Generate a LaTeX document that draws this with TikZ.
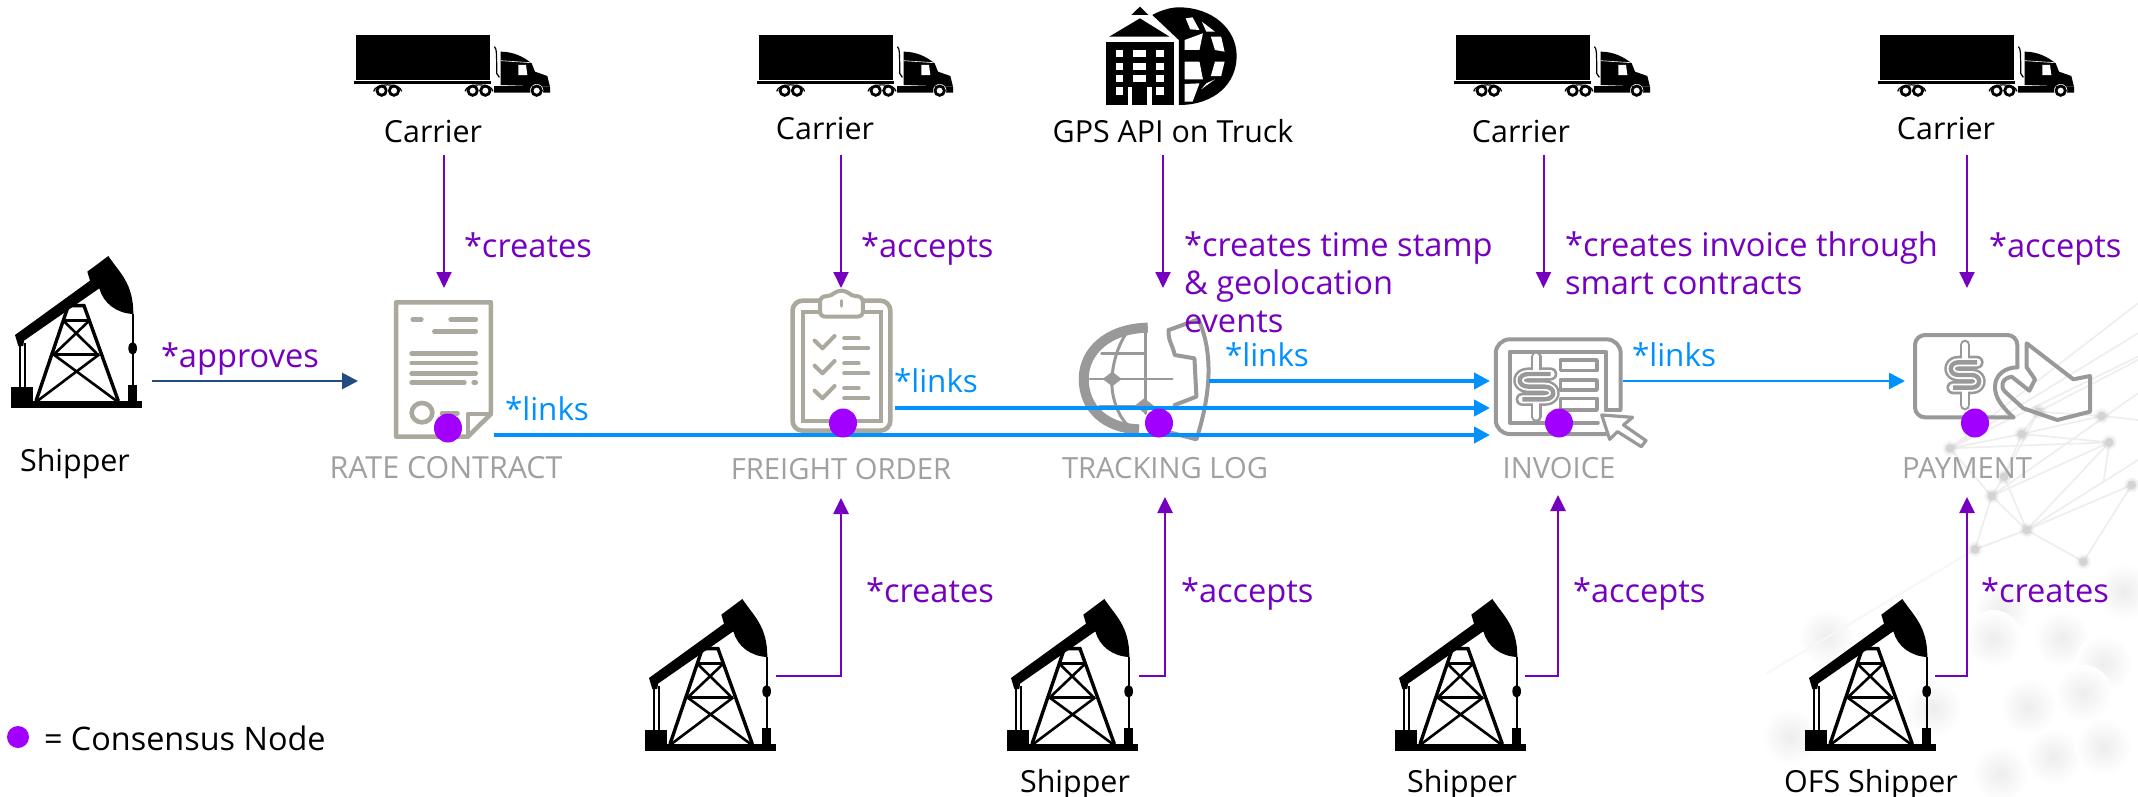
\documentclass[tikz,border=0pt]{standalone}
\usepackage{fontspec}
\setmainfont{Open Sans}
\usetikzlibrary{arrows.meta}
\definecolor{arrowpurple}{HTML}{7500C0}
\definecolor{dotpurple}{HTML}{A100FF}
\definecolor{linkblue}{HTML}{0091FF}
\definecolor{navyline}{HTML}{224B82}
\definecolor{labelgrey}{HTML}{A0A0A0}
\definecolor{docgrey}{HTML}{ABA89D}
\definecolor{icongrey}{HTML}{999999}
\definecolor{netgrey}{HTML}{EEEEEE}
\tikzset{
  txt/.style={inner sep=0pt,outer sep=0pt,anchor=base west,font=\fontsize{16.3}{19}\selectfont},
  purpletxt/.style={txt,text=arrowpurple},
  bluetxt/.style={txt,text=linkblue,font=\fontsize{15.7}{19}\selectfont},
  blacktxt/.style={txt,anchor=base,text=black,font=\fontsize{15.2}{18}\selectfont},
  greytxt/.style={txt,anchor=base,text=labelgrey,font=\fontsize{14.6}{17}\selectfont},
  toparrow/.style={draw=arrowpurple,line width=1pt,-{Triangle[length=8pt,width=7.5pt]}},
  botarrow/.style={draw=arrowpurple,line width=1.3pt,-{Triangle[length=8pt,width=7.5pt]}},
  linkarrow/.style={draw=linkblue,line width=2pt,-{Triangle[length=8pt,width=8pt]}},
  thinlink/.style={draw=linkblue,line width=1.25pt,-{Triangle[length=8pt,width=8pt]}},
  consensus/.style={fill=dotpurple,draw=none},
  dochair/.style={draw=docgrey,line width=2.3pt,line cap=round,line join=round},
  ico/.style={draw=icongrey,line join=round,line cap=round},
  net/.style={draw=netgrey,line width=0.85pt},
}
% truck: trailer's top left corner at (#1,35)
\newcommand{\drawtruck}[1]{%
\begin{scope}[shift={(#1-16,20)},x=0.16667pt,y=-0.16667pt]
  \fill (48,45) rectangle (450,180);
  \fill (42,184) rectangle (452,191);
  \fill (462,198) -- (570,198) -- (630,200) -- (630,218) -- (462,218) -- cycle;
  \fill (482,95) .. controls (520,95) and (550,110) .. (575,130) -- (585,155) -- (622,168) -- (630,200) -- (482,195) -- cycle;
  \fill[white] (535,135) -- (558,135) -- (562,165) -- (535,165) -- cycle;
  \draw[white,line width=0.3pt] (482,122) -- (572,128);
  \draw[line width=0.6pt] (463,80) .. controls (470,85) and (470,100) .. (470,160) -- (478,172);
  \foreach \w in {125,162,398,436,590}{
    \fill[white] (\w,212) circle (20);
    \draw[line width=1.4pt] (\w,212) circle (14);
  }
  \foreach \w in {143,417}{
    \draw[line width=0.6pt] (\w-42,214) .. controls (\w-38,188) and (\w+38,188) .. (\w+42,214);
  }
\end{scope}}
% pump jack: its base's left end at (#1,#2)
\newcommand{\drawjack}[2]{%
\begin{scope}[shift={(#1-11,#2-408)},shift={(0,240)},x=0.16667pt,y=-0.16667pt]
  \fill (33,483) rectangle (425,503);
  \fill (33,441) rectangle (100,503);
  \fill (385,435) rectangle (412,503);
  \fill (45,285) -- (270,122) -- (262,95) -- (325,48) .. controls (360,100) and (400,130) .. (400,222)
     .. controls (350,220) and (310,190) .. (298,145) -- (72,302) -- (70,318) -- (55,318) -- cycle;
  \draw[line width=1.1pt] (60,310) -- (60,441) (75,310) -- (75,441);
  \draw[line width=0.9pt] (400,222) -- (400,435);
  \fill (398,325) ellipse [x radius=13,y radius=19];
  \draw[line width=1.7pt] (108,483) -- (205,197) -- (252,197) -- (355,483);
  \draw[line width=1.7pt] (190,242) -- (268,242) (160,343) -- (298,343);
  \draw[line width=1.3pt] (190,242) -- (290,340) (268,242) -- (165,340);
  \draw[line width=1.3pt] (160,343) -- (350,483) (298,343) -- (112,483);
\end{scope}}
% dollar sign, centred at (#1,#2), in the 3x-crop scale
\newcommand{\dollarS}{(36,-38) -- (-20,-38) .. controls (-50,-38) and (-50,0) .. (-20,0) -- (20,0) .. controls (50,0) and (50,38) .. (20,38) -- (-36,38)}
\newcommand{\drawdollar}[2]{%
\begin{scope}[shift={(#1,#2)}]
  \draw[icongrey,line width=5.4pt,line cap=round] (0,-90) -- (0,90);
  \draw[icongrey,line width=6.6pt,line cap=round,line join=round] \dollarS;
  \draw[white,line width=3pt,line cap=round] (0,-90) -- (0,-50) (0,50) -- (0,90);
  \draw[white,line width=4pt,line cap=round,line join=round] \dollarS;
  \draw[icongrey,line width=2.2pt,line join=round] \dollarS;
\end{scope}}
\newcommand{\blob}[3]{\shade[inner color=black!7,outer color=white] (#1,#2) circle (#3);}
\newcommand{\netdot}[2]{%
  \fill[black!11] (#1,#2) circle (13);
  \fill[black,opacity=.04] (#1,#2) circle (18);
  \fill[black,opacity=.03] (#1,#2) circle (23);}

\begin{document}
\begin{tikzpicture}[x=0.5pt,y=-0.5pt]
\useasboundingbox (0,0) rectangle (2138,797);
\fill[white] (0,0) rectangle (2138,797);

% faint network behind the right end
\begin{scope}[shift={(1700,280)},x=0.16667pt,y=-0.16667pt]
  \foreach \p/\q in {905/990,880/1075,1085/1075,1210/1150,985/1280,1150/1240,1060/1430,1210/1400,380/1070,270/1370,700/1285,900/1480,1270/935}{
    \blob{\p}{\q}{85}
  }
  \draw[net] (750,505) -- (1314,70) (750,505) -- (1314,160) (750,505) -- (1314,230)
    (750,505) -- (875,648) (750,505) -- (965,462) (750,505) -- (1228,487)
    (965,462) -- (1205,408) (965,462) -- (1228,487) (965,462) -- (912,590)
    (912,590) -- (875,648) (912,590) -- (980,750) (875,648) -- (1228,487)
    (875,648) -- (980,750) (875,648) -- (1314,340) (980,750) -- (1295,615)
    (980,750) -- (1228,487) (980,750) -- (1150,845) (825,808) -- (980,750)
    (825,808) -- (875,648) (1295,615) -- (1150,845) (1205,408) -- (1314,420)
    (1015,395) -- (912,590) (1015,395) -- (965,462) (1015,395) -- (1205,408)
    (1015,395) -- (1314,240) (1228,487) -- (1210,610) (1314,540) -- (980,750);
  \draw[draw=black!3,line width=1pt] (825,808) -- (200,1180);
  \foreach \p/\q in {750/505,875/648,912/590,965/462,1015/395,1205/408,1228/487,1295/615,980/750,825/808,1150/845}{
    \netdot{\p}{\q}
  }
\end{scope}

% black icons
\drawtruck{356}
\drawtruck{759}
\drawtruck{1456}
\drawtruck{1880}
\drawjack{11}{408}
\drawjack{645}{751}
\drawjack{1007}{751}
\drawjack{1395}{751}
\drawjack{1805}{751}

% GPS API icon
\begin{scope}[shift={(1060,0)},x=0.17218pt,y=-0.16667pt]
  \fill (133,125) rectangle (330,315);
  \fill (143,110) -- (232,55) -- (318,110) -- cycle;
  \fill (207,45) -- (232,20) -- (257,45) -- cycle;
  \foreach \a/\b in {150/172,190/210,225/245}{
    \fill[white] (162,\a) rectangle (183,\b);
    \fill[white] (212,\a) rectangle (250,\b);
    \fill[white] (280,\a) rectangle (303,\b);
  }
  \fill[white] (162,262) rectangle (183,285);
  \fill[white] (280,262) rectangle (303,285);
  \fill[white] (197,262) rectangle (210,315);
  \fill[white] (252,262) rectangle (268,315);
  \fill (345,315) .. controls (450,315) and (513,250) .. (513,168) .. controls (513,85) and (440,22) .. (345,22) .. controls (320,22) and (290,32) .. (268,45) -- (345,120) -- cycle;
  \fill[white] (362,120) -- (415,100) -- (405,150) -- (362,150) -- cycle;
  \fill[white] (362,185) -- (405,185) -- (415,238) -- (362,238) -- cycle;
  \fill[white] (365,55) -- (385,52) -- (405,90) -- (378,88) -- cycle;
  \fill[white] (412,65) -- (450,95) -- (425,95) -- cycle;
  \fill[white] (438,110) -- (468,110) -- (478,155) -- (450,150) -- cycle;
  \fill[white] (450,185) -- (478,185) -- (468,228) -- (438,228) -- cycle;
  \fill[white] (362,252) -- (405,250) -- (385,305) -- (362,305) -- cycle;
  \fill[white] (410,268) -- (450,238) -- (425,250) -- cycle;
\end{scope}

% rate contract
\begin{scope}[shift={(380,280)},x=0.17218pt,y=-0.16667pt]
  \draw[dochair] (47,67) -- (322,67) -- (322,402) -- (255,470) -- (47,470) -- cycle;
  \draw[dochair] (255,470) -- (255,402) -- (322,402);
  \foreach \a/\b/\c in {95/120/118,205/278/118,158/278/154,92/278/220,92/278/249,92/278/280,92/245/308,272/278/308,180/225/400}{
    \draw[dochair] (\a,\c) -- (\b,\c);
  }
  \draw[dochair] (122,398) ellipse [x radius=30,y radius=29];
\end{scope}

% freight order
\begin{scope}[shift={(380,280)},x=0.17218pt,y=-0.16667pt]
  \draw[dochair,rounded corners=5pt] (1198,62) rectangle (1482,452);
  \draw[draw=docgrey,line width=2pt] (1228,95) rectangle (1455,422);
  \fill[white] (1278,48) rectangle (1402,110);
  \draw[draw=docgrey,line width=2pt,line join=round] (1300,48) .. controls (1315,48) and (1320,32) .. (1340,32) .. controls (1360,32) and (1365,48) .. (1380,48) .. controls (1395,48) and (1402,55) .. (1402,65) -- (1402,95) .. controls (1402,105) and (1395,110) .. (1385,110) -- (1295,110) .. controls (1285,110) and (1278,105) .. (1278,95) -- (1278,65) .. controls (1278,55) and (1285,48) .. (1300,48) -- cycle;
  \draw[dochair,line width=1.6pt] (1340,62) -- (1340,78);
  \foreach \d in {0,75,150}{
    \draw[dochair,line width=2pt] (1262,182+\d) -- (1285,205+\d) -- (1320,168+\d);
    \draw[dochair,line width=2pt] (1348,175+\d) -- (1390,175+\d);
    \draw[dochair,line width=2pt] (1348,205+\d) -- (1418,205+\d);
  }
\end{scope}

% tracking log
\begin{scope}[shift={(1060,280)},x=0.19771pt,y=-0.16667pt]
  \draw[ico,line width=5pt,line cap=butt] (222,143) .. controls (125,145) and (60,210) .. (60,297) .. controls (60,385) and (115,445) .. (200,448);
  \draw[ico,line width=1.5pt] (215,135) -- (215,400);
  \draw[ico,line width=0.6pt] (75,297) -- (285,297);
  \draw[ico,line width=1.3pt] (105,220) -- (215,220);
  \draw[ico,line width=1.3pt] (100,378) -- (205,378);
  \draw[ico,line width=1.5pt] (165,165) .. controls (135,220) and (125,300) .. (135,350) .. controls (145,400) and (160,425) .. (180,445);
  \fill[icongrey] (132,275) -- (156,297) -- (132,319) -- (108,297) -- cycle;
  \fill[icongrey] (213,355) -- (237,377) -- (213,399) -- (189,377) -- cycle;
  \draw[ico,line width=2pt] (275,150) -- (350,118) .. controls (385,210) and (385,330) .. (345,478) -- (280,458);
  \draw[ico,line width=2pt] (275,150) .. controls (272,180) and (285,195) .. (290,225) -- (340,235) -- (345,350) -- (290,375);
\end{scope}

% invoice
\begin{scope}[shift={(1060,280)},x=0.19771pt,y=-0.16667pt]
  \draw[ico,line width=2pt,rounded corners=7pt] (1418,385) -- (1418,178) -- (1102,178) -- (1102,462) -- (1380,462);
  \draw[ico,line width=2pt] (1380,390) -- (1380,215) -- (1138,215) -- (1138,428) -- (1360,428);
  \draw[ico,line width=1.7pt] (1265,240) rectangle (1358,272) (1265,300) rectangle (1358,330) (1265,355) rectangle (1358,390);
  \draw[ico,line width=1.7pt] (1380,390) -- (1418,390);
  \draw[ico,line width=1.6pt,fill=white] (1370,405) -- (1448,412) -- (1425,435) -- (1482,482) -- (1470,500) -- (1410,455) -- (1390,478) -- cycle;
  \drawdollar{1205}{320}
\end{scope}

% payment
\begin{scope}[shift={(1880,280)},x=0.16667pt,y=-0.16667pt]
  \draw[ico,line width=2pt,rounded corners=5pt] (412,262) -- (412,165) -- (105,165) -- (105,412) -- (400,412);
  \draw[ico,line width=2pt] (400,412) .. controls (360,375) and (345,350) .. (345,320) .. controls (345,285) and (375,262) .. (412,262);
  \draw[ico,line width=2pt] (440,190) -- (580,298) -- (630,288) -- (630,395) -- (532,420) -- (430,385) -- (375,335) .. controls (360,320) and (365,295) .. (395,290) -- (448,332) -- (465,298) -- (440,262) -- cycle;
  \drawdollar{255}{285}
\end{scope}

% end points of the connectors
\coordinate (aTop) at (444,155);   \coordinate (aEnd) at (444,288);
\coordinate (bTop) at (841,155);   \coordinate (bEnd) at (841,288);
\coordinate (cTop) at (1163,155);  \coordinate (cEnd) at (1163,288);
\coordinate (dTop) at (1543.5,155);\coordinate (dEnd) at (1543.5,288);
\coordinate (eTop) at (1967,155);  \coordinate (eEnd) at (1967,288);
\coordinate (fStart) at (776,676);  \coordinate (fEnd) at (841,498);
\coordinate (gStart) at (1139,676); \coordinate (gEnd) at (1165,497);
\coordinate (hStart) at (1525,676); \coordinate (hEnd) at (1558,495);
\coordinate (iStart) at (1935,676); \coordinate (iEnd) at (1967,497);
\coordinate (apStart) at (152,381); \coordinate (apEnd) at (358,381);
\coordinate (lkaStart) at (494,435); \coordinate (lkaEnd) at (1490,435);
\coordinate (lkbStart) at (895,408); \coordinate (lkbEnd) at (1490,408);
\coordinate (lkcStart) at (1209,381);\coordinate (lkcEnd) at (1490,381);
\coordinate (lkdStart) at (1623,381);\coordinate (lkdEnd) at (1905,381);

\draw[toparrow] (aTop) -- (aEnd);
\draw[toparrow] (bTop) -- (bEnd);
\draw[toparrow] (cTop) -- (cEnd);
\draw[toparrow] (dTop) -- (dEnd);
\draw[toparrow] (eTop) -- (eEnd);
\draw[botarrow] (fStart) -| (fEnd);
\draw[botarrow] (gStart) -| (gEnd);
\draw[botarrow] (hStart) -| (hEnd);
\draw[botarrow] (iStart) -| (iEnd);
\draw[draw=navyline,line width=1.4pt,-{Triangle[length=8pt,width=8pt]}] (apStart) -- (apEnd);
\draw[linkarrow] (lkaStart) -- (lkaEnd);
\draw[linkarrow] (lkbStart) -- (lkbEnd);
\draw[linkarrow] (lkcStart) -- (lkcEnd);
\draw[thinlink] (lkdStart) -- (lkdEnd);

% consensus dots
\fill[consensus] (448,428) ellipse [x radius=14,y radius=14.5];
\fill[consensus] (843,423) ellipse [x radius=14,y radius=14.5];
\fill[consensus] (1159,423) ellipse [x radius=14,y radius=14.5];
\fill[consensus] (1559,423) ellipse [x radius=14,y radius=14.5];
\fill[consensus] (1975,423) ellipse [x radius=14,y radius=14.5];
\fill[consensus] (18,737) ellipse [x radius=11,y radius=11];

% labels
\node[blacktxt] (carrierA) at (433,142) {Carrier};
\node[blacktxt] (carrierB) at (825,140) {Carrier};
\node[blacktxt] (gps) at (1173,143) {GPS API on Truck};
\node[blacktxt] (carrierC) at (1521,143) {Carrier};
\node[blacktxt] (carrierD) at (1946,140) {Carrier};
\node[blacktxt] (shipperA) at (75,471) {Shipper};
\node[blacktxt] (shipperB) at (1075,792) {Shipper};
\node[blacktxt] (shipperC) at (1462,792) {Shipper};
\node[blacktxt] (shipperD) at (1871,792) {OFS Shipper};
\node[blacktxt,anchor=base west,font=\fontsize{16.2}{19}\selectfont] (legend) at (44,750) {= Consensus Node};

\node[greytxt,font=\fontsize{15.2}{17}\selectfont] (rate) at (446,478) {RATE CONTRACT};
\node[greytxt] (freight) at (841,479) {FREIGHT ORDER};
\node[greytxt] (tracking) at (1165,478) {TRACKING LOG};
\node[greytxt] (invoice) at (1559,478) {INVOICE};
\node[greytxt] (payment) at (1967,478) {PAYMENT};

\node[purpletxt] (lblA) at (464,257) {*creates};
\node[purpletxt] (lblB) at (861,257) {*accepts};
\node[purpletxt,anchor=north west,align=left] (lblC) at (1184,232) {*creates time stamp\\\& geolocation\\events};
\node[purpletxt,anchor=north west,align=left] (lblD) at (1565,232) {*creates invoice through\\smart contracts};
\node[purpletxt] (lblE) at (1989,257) {*accepts};
\node[purpletxt] (lblF) at (161,367) {*approves};
\node[purpletxt] (lblG) at (866,602) {*creates};
\node[purpletxt] (lblH) at (1181,602) {*accepts};
\node[purpletxt] (lblI) at (1573,602) {*accepts};
\node[purpletxt] (lblJ) at (1981,602) {*creates};

\node[bluetxt] (lkA) at (505,420) {*links};
\node[bluetxt] (lkB) at (894,392) {*links};
\node[bluetxt] (lkC) at (1225,366) {*links};
\node[bluetxt] (lkD) at (1632,366) {*links};
\end{tikzpicture}
\end{document}
